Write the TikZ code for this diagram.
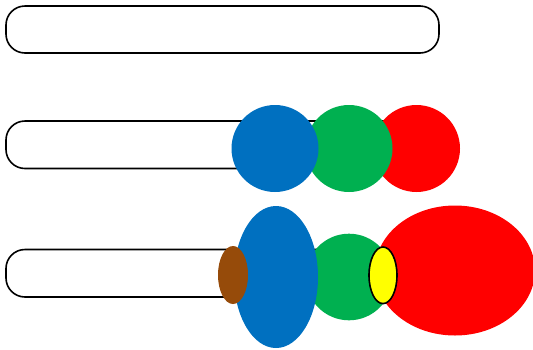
\documentclass[tikz,border=0pt]{standalone}
\definecolor{cblue}{RGB}{0,112,192}
\definecolor{cgreen}{RGB}{0,176,80}
\definecolor{cred}{RGB}{255,0,0}
\definecolor{cbrown}{RGB}{150,75,10}
\definecolor{cyellow}{RGB}{255,255,0}
\begin{document}
\begin{tikzpicture}[x=1pt,y=-1pt]
\tikzset{bar/.style={draw=black,line width=1.6pt,fill=white,rounded corners=19pt}}
\useasboundingbox (0,0) rectangle (533,349);
% row 1
\draw[bar] (6,6) rectangle (439,53);
% row 2
\draw[bar] (6,121) rectangle (439,168.5);
\fill[cred] (416.5,148.5) circle[radius=43.5pt];
\fill[cgreen] (349,148.5) circle[radius=43.5pt];
\fill[cblue] (275,148.5) circle[radius=43.5pt];
% row 3
\draw[bar] (6,249.5) rectangle (439,297);
\fill[cgreen] (349,277) circle[radius=43.3pt];
\fill[cred] (455,270.5) ellipse[x radius=80pt,y radius=65pt];
\fill[cblue] (276,277) ellipse[x radius=42pt,y radius=71pt];
\fill[cbrown] (233,275) ellipse[x radius=15pt,y radius=29pt];
\draw[fill=cyellow,line width=1.6pt] (383,275.3) ellipse[x radius=14pt,y radius=28.3pt];
\end{tikzpicture}
\end{document}
